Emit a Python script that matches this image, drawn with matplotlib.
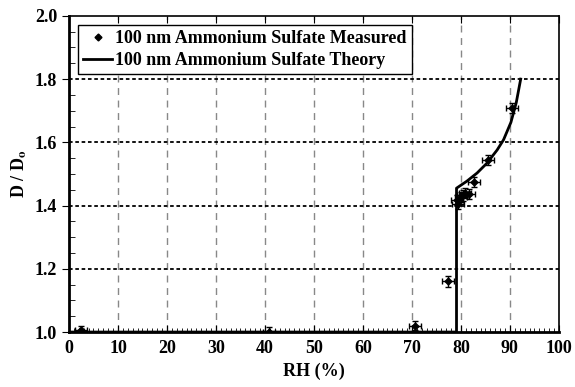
import matplotlib.pyplot as plt
from matplotlib.ticker import MultipleLocator
from matplotlib.lines import Line2D

# measured points (RH %, D/Do) with error bars
rh_meas = [2.4, 40.9, 70.6, 77.3, 79.2, 79.4, 80.0, 80.5, 80.9, 81.6, 82.6, 85.5, 90.5]
d_meas = [1.005, 1.0, 1.02, 1.16, 1.418, 1.405, 1.428, 1.432, 1.44, 1.436, 1.474, 1.545, 1.709]
rh_err = [1.2, 1.2, 1.2, 1.2, 1.2, 1.2, 1.2, 1.2, 1.2, 1.2, 1.2, 1.2, 1.2]
d_err = [0.015, 0.015, 0.015, 0.016, 0.016, 0.016, 0.016, 0.016, 0.016, 0.016, 0.016, 0.016, 0.016]

# theory curve
rh_theory = [0.0, 79.1, 79.1, 79.2, 81.2, 83.3, 85.3, 87.4, 88.7, 90.2, 91.3, 92.2]
d_theory = [1.0, 1.0, 1.455, 1.456, 1.477, 1.503, 1.534, 1.576, 1.608, 1.663, 1.726, 1.80]

labels = ['100 nm Ammonium Sulfate Measured', '100 nm Ammonium Sulfate Theory']

plt.rcParams['font.family'] = ['Liberation Serif', 'DejaVu Serif']
plt.rcParams['font.weight'] = 'bold'
plt.rcParams['mathtext.fontset'] = 'stix'

fig = plt.figure(figsize=(5.75, 3.87), dpi=100)
ax = fig.add_axes([0.12, 0.142, 0.852, 0.817])

ax.errorbar(rh_meas, d_meas, xerr=rh_err, yerr=d_err, fmt='D', color='black',
            markersize=3.5, elinewidth=1, capsize=2.5, capthick=1, zorder=3)
ax.plot(rh_theory, d_theory, color='black', linewidth=2, zorder=4)

ax.set_xlim(0, 100)
ax.set_ylim(1.0, 2.0)
ax.xaxis.set_major_locator(MultipleLocator(10))
ax.xaxis.set_minor_locator(MultipleLocator(1))
ax.yaxis.set_major_locator(MultipleLocator(0.2))
ax.yaxis.set_minor_locator(MultipleLocator(0.05))
ax.yaxis.set_major_formatter(plt.FormatStrFormatter('%.1f'))

for x in range(10, 100, 10):
    ax.axvline(x, color='#888888', linestyle=(0, (5, 4)), linewidth=1, zorder=1)
for y in [1.2, 1.4, 1.6, 1.8]:
    ax.axhline(y, color='black', linestyle=(0, (2, 1.5)), linewidth=1.3, zorder=1)

ax.tick_params(axis='x', which='major', direction='in', length=5, top=True, labelsize=13, pad=6)
ax.tick_params(axis='x', which='minor', direction='in', length=3, top=False)
ax.tick_params(axis='y', which='major', direction='out', length=5, labelsize=13)
ax.tick_params(axis='y', which='minor', direction='in', length=4)
for lab in ax.get_xticklabels() + ax.get_yticklabels():
    lab.set_fontweight('bold')

for s in ax.spines.values():
    s.set_linewidth(1.2)
ax.spines['left'].set_linewidth(2)
ax.spines['bottom'].set_linewidth(2)

ax.set_xlabel('RH (%)', fontsize=13, fontweight='bold')
ax.set_ylabel('D / D$_{\\mathbf{o}}$', fontsize=13, fontweight='bold')

handles = [Line2D([], [], marker='D', linestyle='none', markersize=3.5, color='black'),
           Line2D([], [], color='black', linewidth=2)]
leg = ax.legend(handles, labels, loc='upper left', fontsize=13, frameon=True, fancybox=False,
                edgecolor='black', framealpha=1, handlelength=1.6,
                borderaxespad=0.5, handletextpad=0.15, borderpad=0.3, labelspacing=0.25)
leg.get_frame().set_linewidth(1)
for t in leg.get_texts():
    t.set_fontweight('bold')

fig.savefig('out.png', dpi=100)
